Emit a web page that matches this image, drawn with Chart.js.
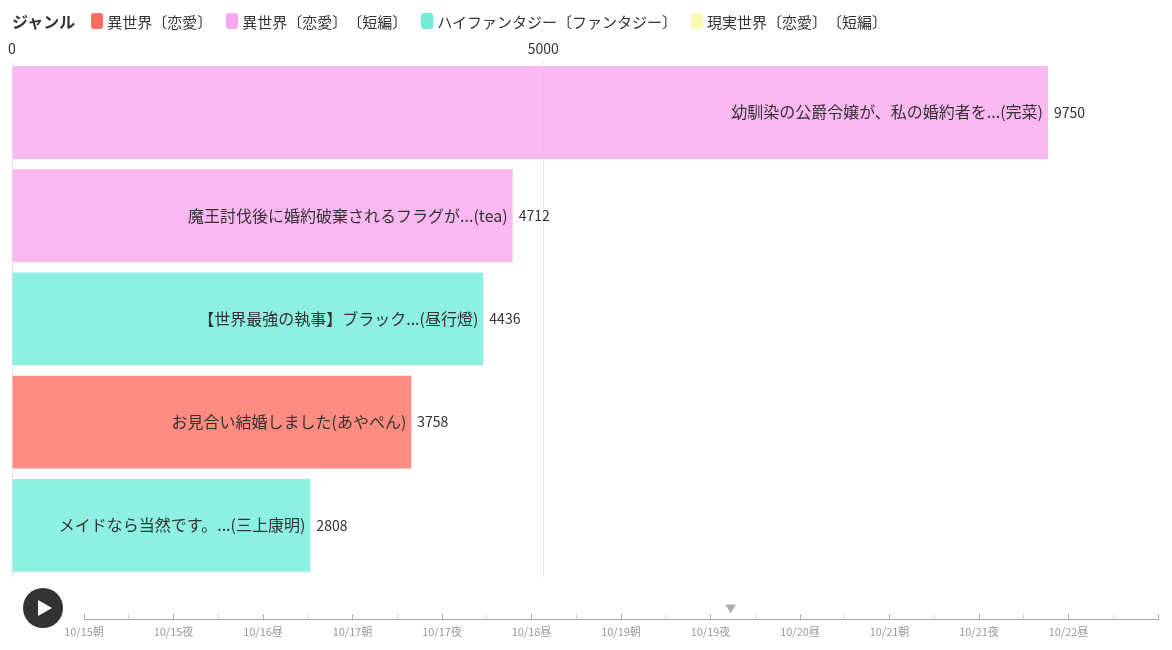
<!DOCTYPE html>
<html lang="ja">
<head>
    <meta charset="UTF-8">
    <title>ジャンル別ランキング</title>
    <script src="https://cdn.jsdelivr.net/npm/chart.js"></script>
    <style>
        body {margin: 0; background: #fff; font-family: "Noto Sans CJK JP", sans-serif;}
        #wrap {position: relative; width: 1172px; height: 650px; overflow: hidden;}
        #rank_canvas {position: absolute; left: 0; top: 0;}
        #timeline_canvas {position: absolute; left: 0; top: 580px;}
        #legend {position: absolute; left: 12px; top: 10px; height: 22px; display: flex; align-items: center; color: #333; font-size: 15px; z-index: 2; text-spacing-trim: space-all;}
        #legend .title {font-weight: bold; font-size: 16px; margin-right: 16px;}
        #legend .item {display: flex; align-items: center; margin-right: 14px;}
        #legend .swatch {width: 12px; height: 16px; border-radius: 3px; margin-right: 4px;}
        #play {position: absolute; left: 23px; top: 588px; width: 40px; height: 40px; border-radius: 50%; background: #333; z-index: 2;}
        #play::after {content: ""; position: absolute; left: 15px; top: 12px; border-left: 14px solid #fff; border-top: 8px solid transparent; border-bottom: 8px solid transparent;}
    </style>
</head>
<body>
<div id="wrap">
    <div id="legend"><span class="title">ジャンル</span></div>
    <canvas id="rank_canvas" width="1172" height="580"></canvas>
    <canvas id="timeline_canvas" width="1172" height="70"></canvas>
    <div id="play"></div>
</div>
<script>
    // data
    const titles = [
        '幼馴染の公爵令嬢が、私の婚約者を...(完菜)',
        '魔王討伐後に婚約破棄されるフラグが...(tea)',
        '【世界最強の執事】ブラック...(昼行燈)',
        'お見合い結婚しました(あやぺん)',
        'メイドなら当然です。...(三上康明)'
    ];
    const values = [9750, 4712, 4436, 3758, 2808];
    const genreOf = [1, 1, 2, 0, 2];
    const genres = ['異世界〔恋愛〕', '異世界〔恋愛〕〔短編〕', 'ハイファンタジー〔ファンタジー〕', '現実世界〔恋愛〕〔短編〕'];
    const genreColors = ['#ff6f61', '#f9a6ee', '#72ecd9', '#fafab2'];
    const xTicks = [0, 5000];

    const timeLabels = [
        '10/15朝', '10/15昼', '10/15夜', '10/16朝', '10/16昼', '10/16夜',
        '10/17朝', '10/17昼', '10/17夜', '10/18朝', '10/18昼', '10/18夜',
        '10/19朝', '10/19昼', '10/19夜', '10/20朝', '10/20昼', '10/20夜',
        '10/21朝', '10/21昼', '10/21夜', '10/22朝', '10/22昼', '10/22夜',
        '10/23朝'
    ];
    const currentFrame = 14.45;

    Chart.defaults.font.family = '"Noto Sans CJK JP", sans-serif';

    const withAlpha = (hex, a) => {
        const n = parseInt(hex.slice(1), 16);
        return `rgba(${n >> 16}, ${(n >> 8) & 255}, ${n & 255}, ${a})`;
    };

    // legend
    const legend = document.getElementById('legend');
    genres.forEach((g, i) => {
        const item = document.createElement('span');
        item.className = 'item';
        item.innerHTML = `<span class="swatch" style="background:${genreColors[i]}"></span><span>${g}</span>`;
        legend.appendChild(item);
    });

    // title inside bar, value right of bar
    const barLabels = {
        id: 'barLabels',
        afterDatasetsDraw(chart) {
            const ctx = chart.ctx;
            ctx.save();
            ctx.textBaseline = 'middle';
            ctx.fillStyle = '#333';
            chart.data.datasets.forEach((ds, di) => {
                chart.getDatasetMeta(di).data.forEach((bar, i) => {
                    if (ds.data[i] == null) return;
                    ctx.font = '16px "Noto Sans CJK JP"';
                    ctx.textAlign = 'right';
                    ctx.fillText(titles[i], bar.x - 5, bar.y);
                    ctx.font = '14px "Noto Sans CJK JP"';
                    ctx.textAlign = 'left';
                    ctx.fillText(ds.data[i], bar.x + 6, bar.y);
                });
            });
            ctx.restore();
        }
    };

    new Chart(document.getElementById('rank_canvas'), {
        type: 'bar',
        data: {
            labels: titles,
            datasets: genres.map((g, gi) => ({
                label: g,
                data: values.map((v, i) => genreOf[i] === gi ? v : null),
                backgroundColor: withAlpha(genreColors[gi], 0.8),
                borderWidth: 0
            }))
        },
        options: {
            indexAxis: 'y',
            responsive: false,
            animation: false,
            layout: {padding: {left: 12, right: 124, top: 36, bottom: 3}},
            datasets: {bar: {grouped: false, categoryPercentage: 1, barPercentage: 0.9}},
            plugins: {legend: {display: false}, tooltip: {enabled: false}},
            scales: {
                x: {
                    position: 'top',
                    min: 0,
                    max: Math.max(...values),
                    afterBuildTicks: (s) => { s.ticks = xTicks.map(v => ({value: v})); },
                    ticks: {color: '#333', font: {size: 14}, padding: 4, callback: (v) => String(v)},
                    grid: {color: '#e6e6e6', drawTicks: false},
                    border: {display: false}
                },
                y: {display: false}
            }
        },
        plugins: [barLabels]
    });

    // timeline
    new Chart(document.getElementById('timeline_canvas'), {
        type: 'scatter',
        data: {
            datasets: [{
                data: [{x: currentFrame, y: 0.6}],
                pointStyle: 'triangle',
                rotation: 180,
                pointRadius: 6,
                pointBackgroundColor: '#aaa',
                pointBorderWidth: 0
            }]
        },
        options: {
            responsive: false,
            animation: false,
            layout: {padding: {left: 84, right: 14, top: 20, bottom: 12}},
            plugins: {legend: {display: false}, tooltip: {enabled: false}},
            scales: {
                x: {
                    type: 'linear',
                    min: 0,
                    max: timeLabels.length - 1,
                    afterBuildTicks: (s) => { s.ticks = timeLabels.map((t, i) => ({value: i})); },
                    ticks: {
                        autoSkip: false,
                        maxRotation: 0,
                        color: '#999',
                        font: {size: 11},
                        padding: 11,
                        callback: (v) => (v % 2 === 0 && v < timeLabels.length - 1) ? timeLabels[v] : ''
                    },
                    grid: {
                        drawOnChartArea: false,
                        drawTicks: true,
                        tickLength: -5,
                        tickColor: (c) => (c.tick && c.tick.value % 2 === 0) ? '#aaa' : '#d5d5d5'
                    },
                    border: {color: '#aaa'}
                },
                y: {display: false, min: 0, max: 1}
            }
        }
    });
</script>
</body>
</html>
